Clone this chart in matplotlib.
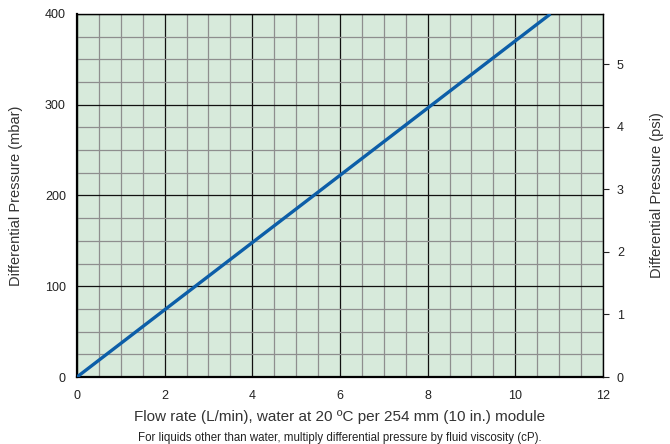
import numpy as np
import matplotlib.pyplot as plt
from matplotlib.ticker import MultipleLocator

plt.rcParams['font.family'] = ['Liberation Sans', 'DejaVu Sans']

# data
flow = [0, 10.8]          # L/min
dp_mbar = [0, 400]        # mbar
x_ticks = [0, 2, 4, 6, 8, 10, 12]
y_ticks = [0, 100, 200, 300, 400]
psi_ticks = [0, 1, 2, 3, 4, 5]
MBAR_PER_PSI = 68.9476

fig = plt.figure(figsize=(6.7, 4.44), dpi=100)
ax = fig.add_axes([0.1149, 0.1509, 0.7851, 0.8176])
ax.set_facecolor('#d7eadb')

ax.set_xlim(0, 12)
ax.set_ylim(0, 400)
ax.xaxis.set_major_locator(MultipleLocator(2))
ax.xaxis.set_minor_locator(MultipleLocator(0.5))
ax.yaxis.set_major_locator(MultipleLocator(100))
ax.yaxis.set_minor_locator(MultipleLocator(25))
ax.set_xticks(x_ticks)
ax.set_yticks(y_ticks)

ax.grid(which='minor', color='#8e8e8e', linewidth=0.9, zorder=1)
ax.grid(which='major', color='#111111', linewidth=0.9, zorder=1)
ax.set_axisbelow(True)

ax.plot(flow, dp_mbar, color='#0c5ea8', linewidth=2.4, solid_capstyle='butt', zorder=3)

for s in ax.spines.values():
    s.set_color('black')
    s.set_linewidth(1.0)
ax.spines['left'].set_linewidth(1.6)
ax.spines['bottom'].set_linewidth(1.6)

ax.tick_params(which='both', length=0, labelsize=9, colors='#222222', pad=9)
ax.tick_params(axis='y', pad=8)

ax.set_ylabel('Differential Pressure (mbar)', fontsize=10.5, color='#333333', labelpad=16)
ax.set_xlabel('Flow rate (L/min), water at 20 ºC per 254 mm (10 in.) module',
              fontsize=11, color='#333333', labelpad=6)
fig.text(0.5075, 0.0, 'For liquids other than water, multiply differential pressure by fluid viscosity (cP).',
         ha='center', va='bottom', fontsize=8.3, color='#222222')

ax2 = ax.twinx()
ax2.set_ylim(0, 400 / MBAR_PER_PSI)
ax2.set_yticks(psi_ticks)
ax2.tick_params(axis='y', length=4, width=0.8, labelsize=9, colors='#222222', pad=6)
for s in ax2.spines.values():
    s.set_visible(False)
ax2.set_ylabel('Differential Pressure (psi)', fontsize=10.5, color='#333333')
ax2.yaxis.set_label_coords(1.09, 0.5)

fig.savefig('out.png', dpi=100)
